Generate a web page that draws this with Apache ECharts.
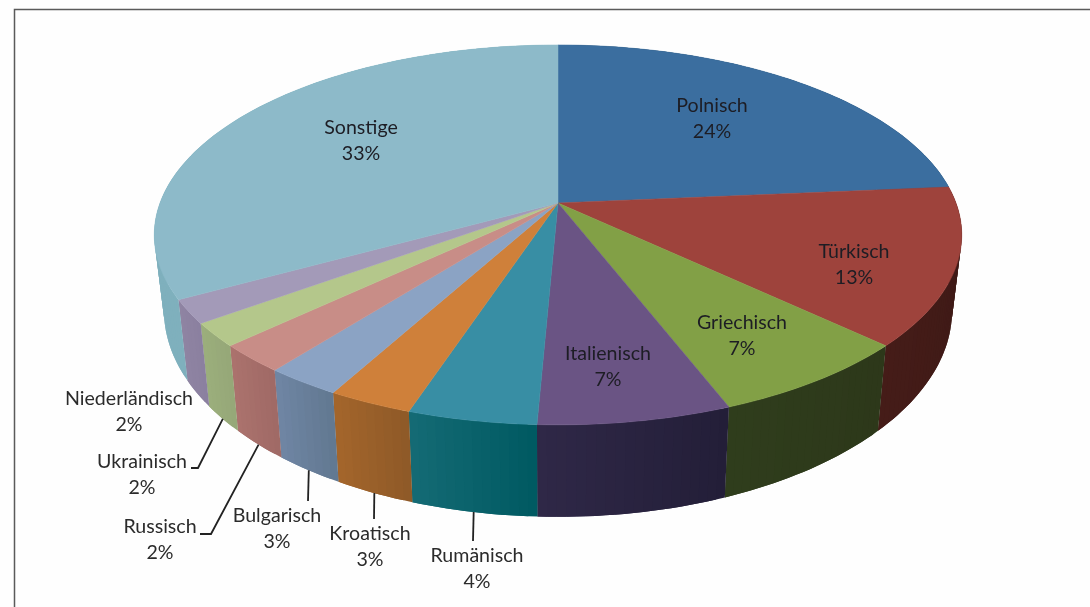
<!DOCTYPE html>
<html>
<head>
<meta charset="utf-8">
<style>
  html, body { margin: 0; padding: 0; background: #fff; }
  #chart { width: 1090px; height: 607px; }
</style>
<script src="https://cdn.jsdelivr.net/npm/echarts@6/dist/echarts.min.js"></script>
</head>
<body>
<div id="chart"></div>
<script>
// Sprachen, im Uhrzeigersinn ab 12 Uhr
const names = ['Polnisch', 'Türkisch', 'Griechisch', 'Italienisch', 'Rumänisch', 'Kroatisch',
  'Bulgarisch', 'Russisch', 'Ukrainisch', 'Niederländisch', 'Sonstige'];
const values = [23.6, 13.4, 7.1, 6.6, 4.4, 2.9, 2.6, 2.4, 2.0, 2.0, 33.0];

const topColors = ['#3b6e9f', '#9e433c', '#82a046', '#6a5484', '#388ea4', '#cf803a',
  '#8ba3c4', '#c88d87', '#b4c78b', '#a39ab8', '#8dbac9'];
// Wandfarben: [Anfang der Scheibe, Ende der Scheibe], vorne läuft das von rechts nach links
const wallColors = [
  ['#2c5275', '#2c5275'], ['#3a1815', '#451c18'], ['#2d381a', '#2f3d1c'], ['#231e38', '#2f2847'],
  ['#005a62', '#146a74'], ['#8f5a28', '#a3652b'], ['#627992', '#6f85a3'], ['#a06a66', '#ab726d'],
  ['#96a878', '#9bae7c'], ['#8b80a0', '#8f84a2'], ['#7fb0bd', '#7fb0bd']
];

// Label-Mittelpunkte im Bild
const labelPos = [[712, 119], [854, 265], [742, 336], [608, 367], [477, 569], [370, 547],
  [277, 529], [160, 540], [142, 475], [129, 412], [361, 141]];
// Führungslinien ab Unterkante, Knickpunkte im Bild (leer = keine Linie)
const leaderEnds = [[], [], [], [], [[473, 541]], [[374, 519]], [[308, 501]],
  [[211, 534], [200, 534]], [[198, 468], [191, 468]], [], []];

// Perspektive der Kreisscheibe
const cx = 558, cy = 203, rx = 398, ry = 184.6, persp = 0.168;
const wallScaleX = 0.976, wallScaleY = 1.087, wallShiftY = 55;

function topPoint(pct) {
  const a = pct / 100 * 2 * Math.PI;
  const u = Math.sin(a), v = -Math.cos(a);
  const d = 1 - persp * v;
  return [cx + rx * u / d, cy + ry * v / d];
}
function lowPoint(pct) {
  const p = topPoint(pct);
  return [cx + wallScaleX * (p[0] - cx), wallScaleY * p[1] + wallShiftY];
}
function arc(fn, from, to) {
  const pts = [];
  const n = Math.max(2, Math.ceil((to - from) * 3));
  for (let i = 0; i <= n; i++) pts.push(fn(from + (to - from) * i / n));
  return pts;
}

let sum = 0;
const sliceData = values.map(function (v) {
  const row = [sum, sum + v];
  sum += v;
  return row;
});

// Seitenwand als schmale Streifen, damit auch die Silhouette links und rechts gefüllt ist.
// Jeder Streifen überlappt den nächsten, sonst sieht man die Nähte.
function renderWall(params, api) {
  const from = api.value(0), to = api.value(1);
  const c = wallColors[params.dataIndex];
  const upper = arc(topPoint, from, to);
  const lower = arc(lowPoint, from, to);
  const last = upper.length - 1;
  const strips = [];
  for (let i = 0; i < last; i++) {
    const j = Math.min(i + 2, last);
    const pts = upper.slice(i, j + 1).concat(lower.slice(i, j + 1).reverse());
    strips.push({
      type: 'polygon',
      shape: { points: pts },
      style: { fill: echarts.color.lerp(i / Math.max(1, last - 1), c), stroke: null }
    });
  }
  return { type: 'group', children: strips };
}

function renderTop(params, api) {
  const pts = [[cx, cy]].concat(arc(topPoint, api.value(0), api.value(1)));
  return {
    type: 'polygon',
    shape: { points: pts },
    style: { fill: topColors[params.dataIndex], stroke: topColors[params.dataIndex], lineWidth: 0.5 }
  };
}

function renderLabel(params, api) {
  const i = params.dataIndex;
  const from = api.value(0), to = api.value(1);
  const children = [{
    type: 'text',
    style: {
      text: names[i] + '\n' + Math.round(values[i]) + '%',
      x: labelPos[i][0],
      y: labelPos[i][1],
      align: 'center',
      verticalAlign: 'middle',
      lineHeight: 26,
      font: '19.6px Lato, "Open Sans", sans-serif',
      fill: i < 4 || i === 10 ? '#1d1d24' : '#2b2b2b'
    }
  }];
  if (leaderEnds[i].length) {
    children.push({
      type: 'polyline',
      shape: { points: [lowPoint((from + to) / 2)].concat(leaderEnds[i]) },
      style: { stroke: '#222', lineWidth: 1.8, fill: null }
    });
  }
  return { type: 'group', children: children };
}

const chart = echarts.init(document.getElementById('chart'), null, { renderer: 'canvas' });
chart.setOption({
  animation: false,
  backgroundColor: '#fefefe',
  graphic: [{
    type: 'polyline',
    shape: { points: [[14.5, 607], [14.5, 9.5], [1090, 9.5]] },
    style: { stroke: '#5a5a5a', lineWidth: 1.5, fill: null }
  }],
  series: [
    { type: 'custom', coordinateSystem: 'none', renderItem: renderWall, data: sliceData, z: 1, silent: true },
    { type: 'custom', coordinateSystem: 'none', renderItem: renderTop, data: sliceData, z: 2, silent: true },
    { type: 'custom', coordinateSystem: 'none', renderItem: renderLabel, data: sliceData, z: 3, silent: true }
  ]
});
</script>
</body>
</html>
